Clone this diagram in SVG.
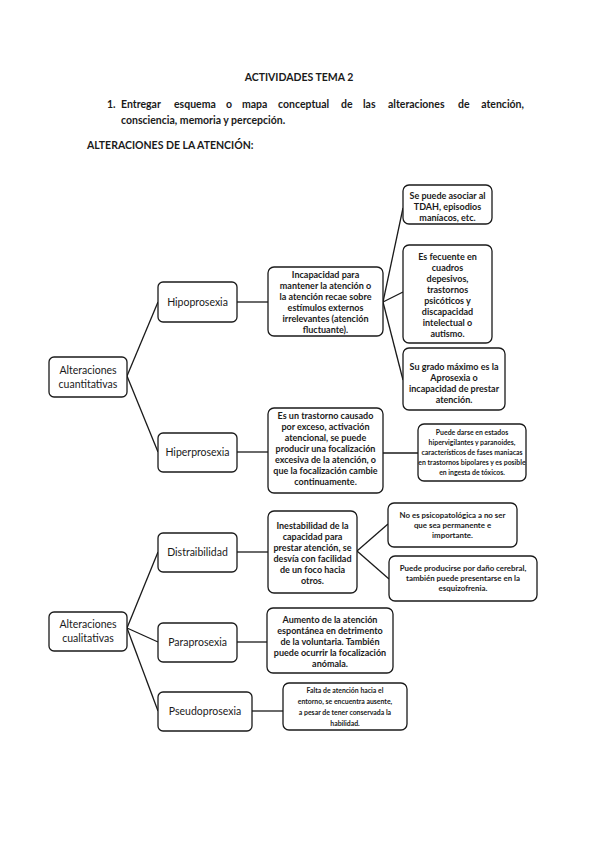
<svg xmlns="http://www.w3.org/2000/svg" width="599" height="848" viewBox="0 0 599 848">
<style>
text{font-family:Lato,"Liberation Sans",sans-serif;fill:#1a1a1a}
.h{font-size:10.5px;font-weight:bold}
.p{font-size:10.5px;font-weight:bold;fill:#333}
.box{fill:#fff;stroke:#1a1a1a;stroke-width:1.3}
.lbl{font-size:10.5px;text-anchor:middle}
.d{font-size:9px;font-weight:bold;text-anchor:middle}
.s{font-size:6.9px;font-weight:bold;text-anchor:middle}
.m{font-size:7.9px;font-weight:bold;text-anchor:middle}
.c path{stroke:#1a1a1a;stroke-width:1.3;fill:none}
</style>
<rect width="599" height="848" fill="#fff"/>
<text class="h" x="299" y="81" text-anchor="middle">ACTIVIDADES TEMA 2</text>
<g class="p">
<text x="107" y="108">1.</text>
<text x="121" y="108">Entregar</text>
<text x="174" y="108">esquema</text>
<text x="226" y="108">o</text>
<text x="242" y="108">mapa</text>
<text x="278" y="108">conceptual</text>
<text x="341" y="108">de</text>
<text x="363" y="108">las</text>
<text x="388" y="108">alteraciones</text>
<text x="458" y="108">de</text>
<text x="524" y="108" text-anchor="end">atención,</text>
<text x="121" y="124">consciencia, memoria y percepción.</text>
</g>
<text class="h" x="87" y="149">ALTERACIONES DE LA ATENCIÓN:</text>

<g class="c" id="connectors">
<path d="M127,376 L158,302"/>
<path d="M127,376 L158,452"/>
<path d="M237,302 L268,302"/>
<path d="M383,302 L403,208"/>
<path d="M383,302 L403,292"/>
<path d="M383,302 L403,380"/>
<path d="M237,452 L268,452"/>
<path d="M383,453 L418,453"/>
<path d="M127,628 L158,552"/>
<path d="M127,628 L158,642"/>
<path d="M127,628 L158,711"/>
<path d="M237,552 L268,552"/>
<path d="M357,551 L388,524"/>
<path d="M357,551 L389,579"/>
<path d="M237,642 L267,642"/>
<path d="M252,711 L283,711"/>
</g>

<g id="cuantitativas"><rect class="box" x="49" y="357" width="78" height="40" rx="5"/>
<text class="lbl" x="88" y="374">Alteraciones</text><text class="lbl" x="88" y="388">cuantitativas</text></g>
<g id="hipoprosexia"><rect class="box" x="158" y="282" width="79" height="40" rx="5"/>
<text class="lbl" x="197.5" y="306">Hipoprosexia</text></g>
<g id="hiperprosexia"><rect class="box" x="158" y="433" width="79" height="39" rx="5"/>
<text class="lbl" x="197.5" y="456">Hiperprosexia</text></g>

<g id="incapacidad"><rect class="box" x="268" y="267" width="115" height="69" rx="6"/>
<text class="d" x="325.5" y="278">Incapacidad para</text>
<text class="d" x="325.5" y="289">mantener la atención o</text>
<text class="d" x="325.5" y="300">la atención recae sobre</text>
<text class="d" x="325.5" y="311">estímulos externos</text>
<text class="d" x="325.5" y="322">irrelevantes (atención</text>
<text class="d" x="325.5" y="333">fluctuante).</text></g>

<g id="tdah"><rect class="box" x="403" y="185" width="89" height="39" rx="6"/>
<text class="d" x="447.5" y="199">Se puede asociar al</text>
<text class="d" x="447.5" y="210">TDAH, episodios</text>
<text class="d" x="447.5" y="221">maníacos, etc.</text></g>

<g id="frecuente"><rect class="box" x="403" y="245" width="89" height="98" rx="6"/>
<text class="d" x="447.5" y="260">Es fecuente en</text>
<text class="d" x="447.5" y="271">cuadros</text>
<text class="d" x="447.5" y="282">depesivos,</text>
<text class="d" x="447.5" y="293">trastornos</text>
<text class="d" x="447.5" y="304">psicóticos y</text>
<text class="d" x="447.5" y="315">discapacidad</text>
<text class="d" x="447.5" y="326">intelectual o</text>
<text class="d" x="447.5" y="337">autismo.</text></g>

<g id="aprosexia"><rect class="box" x="403" y="348" width="102" height="62" rx="6"/>
<text class="d" x="454" y="370">Su grado máximo es la</text>
<text class="d" x="454" y="381">Aprosexia o</text>
<text class="d" x="454" y="392">incapacidad de prestar</text>
<text class="d" x="454" y="403">atención.</text></g>

<g id="trastorno"><rect class="box" x="268" y="408" width="115" height="85" rx="6"/>
<text class="d" x="325.5" y="419">Es un trastorno causado</text>
<text class="d" x="325.5" y="430">por exceso, activación</text>
<text class="d" x="325.5" y="441">atencional, se puede</text>
<text class="d" x="325.5" y="452">producir una focalización</text>
<text class="d" x="325.5" y="463">excesiva de la atención, o</text>
<text class="d" x="325.5" y="474">que la focalización cambie</text>
<text class="d" x="325.5" y="485">continuamente.</text></g>

<g id="estados"><rect class="box" x="418" y="424" width="108" height="57" rx="6"/>
<text class="s" x="472" y="435">Puede darse en estados</text>
<text class="s" x="472" y="445">hipervigilantes y paranoides,</text>
<text class="s" x="472" y="455">característicos de fases maniacas</text>
<text class="s" x="472" y="465">en trastornos bipolares y es posible</text>
<text class="s" x="472" y="475">en ingesta de tóxicos.</text></g>

<g id="cualitativas"><rect class="box" x="49" y="612" width="78" height="39" rx="5"/>
<text class="lbl" x="88" y="628">Alteraciones</text><text class="lbl" x="88" y="642">cualitativas</text></g>
<g id="distraibilidad"><rect class="box" x="158" y="533" width="79" height="39" rx="5"/>
<text class="lbl" x="197.5" y="556">Distraibilidad</text></g>
<g id="paraprosexia"><rect class="box" x="158" y="623" width="79" height="39" rx="5"/>
<text class="lbl" x="197.5" y="646">Paraprosexia</text></g>
<g id="pseudoprosexia"><rect class="box" x="158" y="692" width="94" height="39" rx="5"/>
<text class="lbl" x="205" y="715">Pseudoprosexia</text></g>

<g id="inestabilidad"><rect class="box" x="268" y="511" width="89" height="82" rx="6"/>
<text class="d" x="312.5" y="529">Inestabilidad de la</text>
<text class="d" x="312.5" y="540">capacidad para</text>
<text class="d" x="312.5" y="551">prestar atención, se</text>
<text class="d" x="312.5" y="562">desvía con facilidad</text>
<text class="d" x="312.5" y="573">de un foco hacia</text>
<text class="d" x="312.5" y="584">otros.</text></g>

<g id="psicopatologica"><rect class="box" x="388" y="503" width="129" height="44" rx="6"/>
<text class="m" x="452.5" y="518">No es psicopatológica a no ser</text>
<text class="m" x="452.5" y="528">que sea permanente e</text>
<text class="m" x="452.5" y="538">importante.</text></g>

<g id="cerebral"><rect class="box" x="389" y="556" width="148" height="45" rx="6"/>
<text class="m" x="463" y="571">Puede producirse por daño cerebral,</text>
<text class="m" x="463" y="581">también puede presentarse en la</text>
<text class="m" x="463" y="591">esquizofrenia.</text></g>

<g id="aumento"><rect class="box" x="267" y="608" width="126" height="65" rx="6"/>
<text class="d" x="330" y="623">Aumento de la atención</text>
<text class="d" x="330" y="634">espontánea en detrimento</text>
<text class="d" x="330" y="645">de la voluntaria. También</text>
<text class="d" x="330" y="656">puede ocurrir la focalización</text>
<text class="d" x="330" y="667">anómala.</text></g>

<g id="falta"><rect class="box" x="283" y="683" width="124" height="47" rx="6"/>
<text class="s" x="345" y="693">Falta de atención hacia el</text>
<text class="s" x="345" y="704">entorno, se encuentra ausente,</text>
<text class="s" x="345" y="715">a pesar de tener conservada la</text>
<text class="s" x="345" y="726">habilidad.</text></g>
</svg>
